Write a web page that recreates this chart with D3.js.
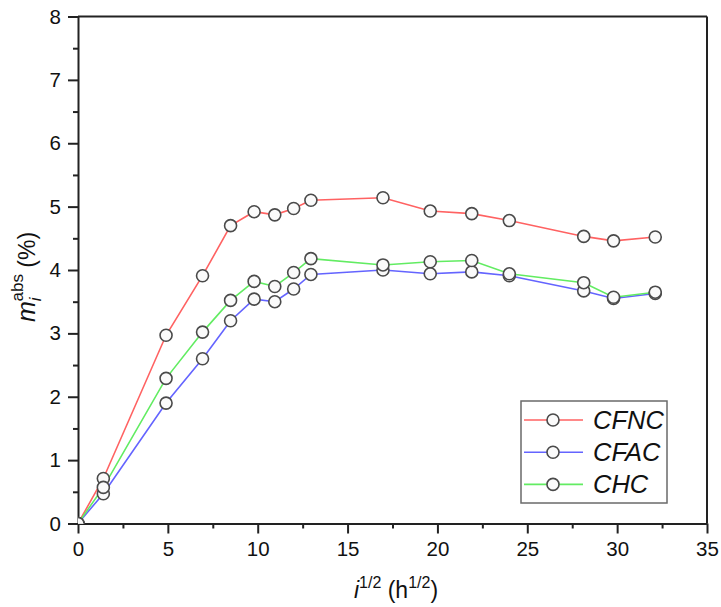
<!DOCTYPE html>
<html><head><meta charset="utf-8">
<script src="https://cdn.jsdelivr.net/npm/d3@7"></script>
<style>body{margin:0;background:#fff}svg{display:block;font-family:"Liberation Sans",Arial,sans-serif}</style>
</head><body>
<svg id="chart" width="721" height="607"></svg>
<script>
const xValues = [0, 1.41, 4.90, 6.93, 8.49, 9.80, 10.95, 12.00, 12.96, 16.97, 19.60, 21.91, 24.00, 28.14, 29.80, 32.12];
const cfnc = [0, 0.71, 2.97, 3.91, 4.70, 4.92, 4.87, 4.97, 5.10, 5.14, 4.93, 4.89, 4.78, 4.53, 4.46, 4.52];
const cfac = [0, 0.47, 1.90, 2.60, 3.20, 3.54, 3.50, 3.70, 3.93, 4.00, 3.94, 3.97, 3.91, 3.67, 3.55, 3.63];
const chc  = [0, 0.57, 2.29, 3.02, 3.52, 3.82, 3.74, 3.96, 4.18, 4.08, 4.13, 4.15, 3.94, 3.80, 3.57, 3.65];
const seriesNames = ["CFNC", "CFAC", "CHC"];
const seriesColors = ["#ff6262", "#6464ff", "#62ec62"];
const xTicks = [0, 5, 10, 15, 20, 25, 30, 35];
const yTicks = [0, 1, 2, 3, 4, 5, 6, 7, 8];

const series = [cfnc, cfac, chc].map((v, i) => ({name: seriesNames[i], color: seriesColors[i], pts: v.map((y, j) => [xValues[j], y])}));

const svg = d3.select("#chart");
const L = 78, R = 707, T = 16.5, B = 523.5;
const x = d3.scaleLinear().domain([0, 35]).range([L, R]);
const y = d3.scaleLinear().domain([0, 8]).range([B, T]);

svg.append("defs").append("clipPath").attr("id", "clip")
  .append("rect").attr("x", L).attr("y", T).attr("width", R - L).attr("height", B - T);

// frame top/right
svg.append("line").attr("x1", L).attr("x2", R).attr("y1", T).attr("y2", T).attr("stroke", "#222").attr("stroke-width", 2);
svg.append("line").attr("x1", R).attr("x2", R).attr("y1", T).attr("y2", B).attr("stroke", "#222").attr("stroke-width", 2);

// axes
const xMinor = d3.range(2.5, 35, 5);
const yMinor = d3.range(0.5, 8, 1);
const gx = svg.append("g").attr("transform", `translate(0,${B})`);
gx.call(d3.axisBottom(x).tickValues(xMinor).tickSize(5).tickFormat(""));
gx.call(g => g.select(".domain").remove());
const gx2 = svg.append("g").attr("transform", `translate(0,${B})`)
  .call(d3.axisBottom(x).tickValues(xTicks).tickSize(10).tickSizeOuter(0).tickPadding(8).tickFormat(d3.format("d")));
const gy = svg.append("g").attr("transform", `translate(${L},0)`);
gy.call(d3.axisLeft(y).tickValues(yMinor).tickSize(5).tickFormat(""));
gy.call(g => g.select(".domain").remove());
const gy2 = svg.append("g").attr("transform", `translate(${L},0)`)
  .call(d3.axisLeft(y).tickValues(yTicks).tickSize(10).tickSizeOuter(0).tickPadding(7).tickFormat(d3.format("d")));
svg.selectAll(".tick line").attr("stroke", "#222").attr("stroke-width", 2);
svg.selectAll(".domain").attr("stroke", "#222").attr("stroke-width", 2);
svg.selectAll(".tick text").attr("font-size", 20.5).attr("fill", "#111").attr("font-family", "Liberation Sans, Arial, sans-serif");

// data
const plot = svg.append("g").attr("clip-path", "url(#clip)");
const line = d3.line().x(d => x(d[0])).y(d => y(d[1]));
series.forEach(s => {
  plot.append("path").datum(s.pts).attr("d", line).attr("fill", "none")
    .attr("stroke", s.color).attr("stroke-width", 1.6);
});
series.forEach(s => {
  plot.selectAll(null).data(s.pts).enter().append("circle")
    .attr("cx", d => x(d[0])).attr("cy", d => y(d[1])).attr("r", 6)
    .attr("fill", "#fafafa").attr("stroke", "#4a4a4a").attr("stroke-width", 1.6);
});

// legend
const lg = svg.append("g");
lg.append("rect").attr("x", 521).attr("y", 401).attr("width", 146).attr("height", 102)
  .attr("fill", "#fff").attr("stroke", "#6a6a6a").attr("stroke-width", 1.5);
series.forEach((s, i) => {
  const yy = 420 + i * 32.2;
  lg.append("line").attr("x1", 524).attr("x2", 583).attr("y1", yy).attr("y2", yy)
    .attr("stroke", s.color).attr("stroke-width", 1.6);
  lg.append("circle").attr("cx", 553).attr("cy", yy).attr("r", 6)
    .attr("fill", "#fafafa").attr("stroke", "#4a4a4a").attr("stroke-width", 1.6);
  lg.append("text").attr("x", 593).attr("y", yy + 9).attr("font-size", 25.5).attr("font-style", "italic")
    .attr("fill", "#111").text(s.name);
});

// x label
const xl = svg.append("text").attr("x", 396).attr("y", 598).attr("text-anchor", "middle")
  .attr("font-size", 23).attr("fill", "#111");
xl.append("tspan").attr("font-style", "italic").text("i");
xl.append("tspan").attr("font-size", 16).attr("dy", -10).text("1/2");
xl.append("tspan").attr("dy", 10).text(" (h");
xl.append("tspan").attr("font-size", 16).attr("dy", -10).text("1/2");
xl.append("tspan").attr("dy", 10).text(")");

// y label
const yl = svg.append("text").attr("transform", "translate(35,277) rotate(-90)").attr("text-anchor", "middle")
  .attr("font-size", 23).attr("fill", "#111");
yl.append("tspan").attr("font-style", "italic").attr("font-size", 25).text("m");
yl.append("tspan").attr("font-style", "italic").attr("font-size", 17).attr("dy", 6).text("i");
yl.append("tspan").attr("font-size", 17).attr("dx", -4).attr("dy", -18).text("abs");
yl.append("tspan").attr("dy", 12).text(" (%)");
</script>
</body></html>
